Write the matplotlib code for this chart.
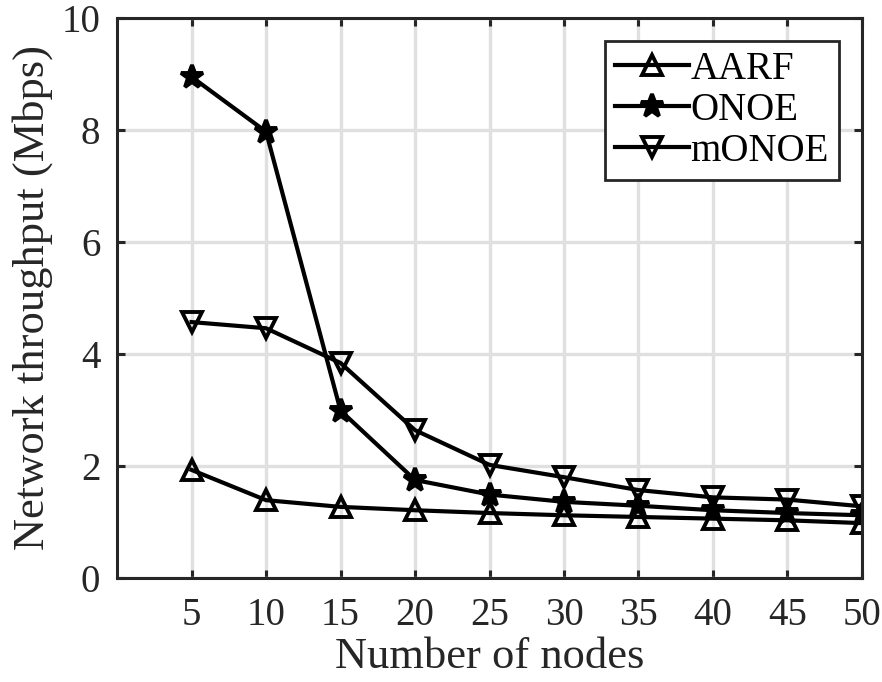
import matplotlib
matplotlib.use('Agg')
import matplotlib.pyplot as plt

# Data
nodes = [5, 10, 15, 20, 25, 30, 35, 40, 45, 50]
aarf = [1.93, 1.39, 1.27, 1.21, 1.16, 1.12, 1.09, 1.06, 1.03, 0.98]
onoe = [8.95, 7.97, 2.99, 1.75, 1.49, 1.36, 1.29, 1.21, 1.16, 1.12]
monoe = [4.57, 4.46, 3.84, 2.64, 2.02, 1.80, 1.57, 1.44, 1.40, 1.28]
y_ticks = [0, 2, 4, 6, 8, 10]

plt.rcParams['font.family'] = ['Liberation Serif', 'DejaVu Serif']
plt.rcParams['font.size'] = 28

fig = plt.figure(figsize=(8.82, 6.82), dpi=100)
ax = fig.add_axes([0.1327, 0.1525, 0.8446, 0.8211])

style = dict(color='black', linewidth=3.0, markersize=14,
             markerfacecolor='none', markeredgewidth=2.8)
ax.plot(nodes, aarf, marker='^', label='AARF', **style)
ax.plot(nodes, onoe, marker='*', label='ONOE', **dict(style, markerfacecolor='black', markersize=17))
ax.plot(nodes, monoe, marker='v', label='mONOE', **style)

ax.set_xlim(0, 50)
ax.set_ylim(0, 10)
ax.set_xticks(nodes)
ax.set_yticks(y_ticks)
ax.grid(True, color='#e0e0e0', linewidth=2.4)
ax.set_axisbelow(True)

for s in ax.spines.values():
    s.set_linewidth(2.2)
    s.set_color('#262626')
ax.tick_params(direction='in', length=6, width=2.2, color='#262626',
               top=True, right=True, labelcolor='#262626')
ax.tick_params(axis='x', pad=14)
ax.tick_params(axis='y', pad=12)

ax.set_xlabel('Number of nodes', color='#262626', fontsize=32, labelpad=2)
ax.set_ylabel('Network throughput (Mbps)', color='#262626', fontsize=32, labelpad=6)

leg = ax.legend(loc='upper right', fancybox=False, framealpha=1,
                edgecolor='#262626', handlelength=1.9, handletextpad=0.05,
                borderpad=0.25, labelspacing=0.1, borderaxespad=0.6,
                fontsize=28)
leg.get_frame().set_linewidth(2.0)
for t in leg.get_texts():
    t.set_color('black')

fig.savefig('out.png', dpi=100)
